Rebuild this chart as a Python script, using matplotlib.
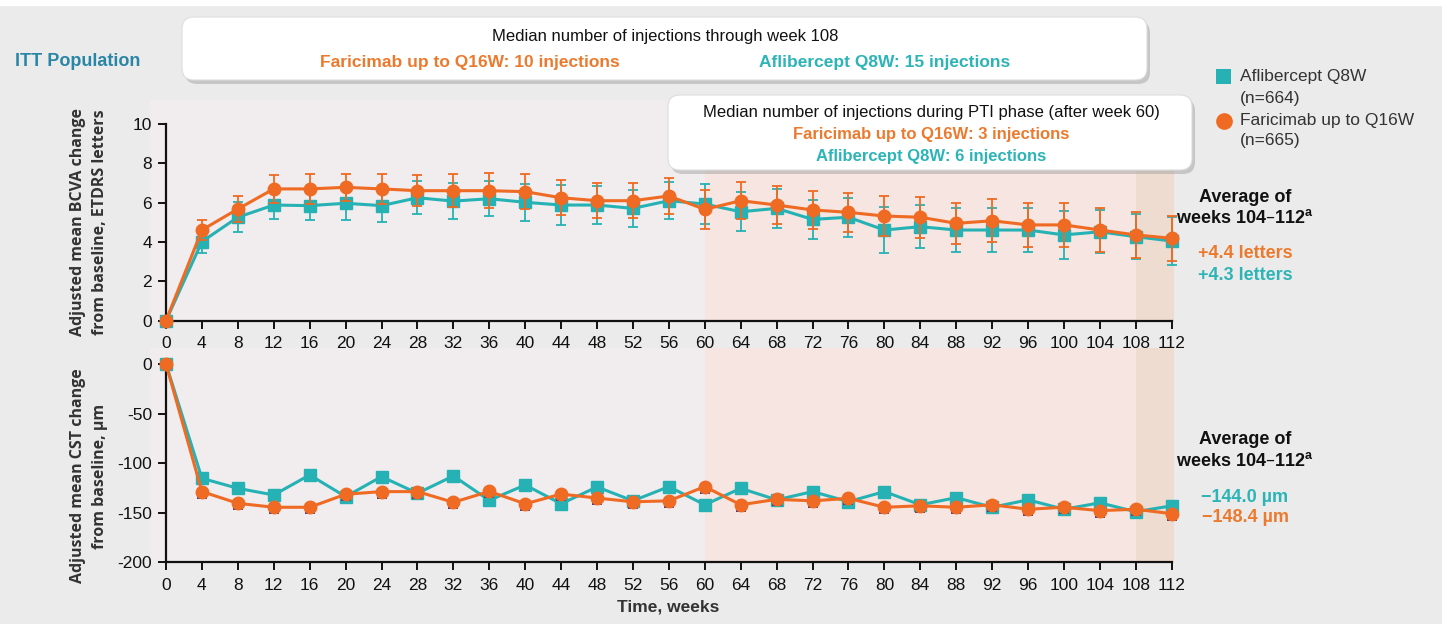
import matplotlib
matplotlib.use('Agg')
import matplotlib.pyplot as plt
from matplotlib.patches import FancyBboxPatch, Rectangle
from matplotlib.transforms import IdentityTransform

# ---------------- data ----------------
weeks = list(range(0, 113, 4))
week_ticks = list(range(0, 113, 4))

bcva_faricimab = [0, 4.61, 5.68, 6.7, 6.7, 6.78, 6.7, 6.61, 6.61, 6.61, 6.56, 6.25, 6.1, 6.1,
                  6.34, 5.66, 6.1, 5.88, 5.63, 5.51, 5.32, 5.26, 4.95, 5.08, 4.87, 4.87, 4.61,
                  4.36, 4.19]
bcva_aflibercept = [0, 4.02, 5.26, 5.88, 5.85, 5.97, 5.85, 6.25, 6.08, 6.2, 6.02, 5.88, 5.88,
                    5.71, 6.1, 5.93, 5.54, 5.71, 5.15, 5.26, 4.61, 4.78, 4.61, 4.61, 4.61, 4.36,
                    4.52, 4.27, 4.05]
bcva_err_faricimab = [0, 0.5, 0.65, 0.7, 0.75, 0.7, 0.75, 0.8, 0.85, 0.9, 0.9, 0.9, 0.9, 0.9,
                      0.9, 1.0, 0.95, 0.95, 0.95, 1.0, 1.0, 1.05, 1.05, 1.1, 1.1, 1.1, 1.1,
                      1.15, 1.15]
bcva_err_aflibercept = [0, 0.6, 0.75, 0.7, 0.75, 0.85, 0.85, 0.85, 0.9, 0.9, 0.95, 1.0, 0.95,
                        0.95, 0.95, 1.0, 1.0, 1.0, 1.0, 1.0, 1.15, 1.1, 1.1, 1.1, 1.1, 1.2,
                        1.1, 1.15, 1.2]

cst_aflibercept = [0, -115.3, -125.4, -132.1, -111.9, -133.8, -113.6, -130.4, -112.9, -137.5,
                   -122, -141, -124, -138, -123.7, -142, -125.4, -137, -128.7, -138.8, -128.7,
                   -142, -134.8, -144.5, -137, -146.5, -140, -149, -143]
cst_faricimab = [0, -128.7, -140.5, -144.5, -144.5, -131.4, -128.7, -128.7, -139.5, -128.5,
                 -141, -131.2, -135.2, -139, -138, -123.7, -142, -136.5, -138, -135.5, -144.5,
                 -143, -144.5, -142, -146.5, -144.5, -147.9, -146.5, -151]
cst_err_low = [0] + [6] * 28
cst_err_high = [0] + [3] * 28

bcva_ticks = [0, 2, 4, 6, 8, 10]
cst_ticks = [0, -50, -100, -150, -200]

# ---------------- style ----------------
ORANGE = '#ef6a22'
TEAL = '#26b2b4'
ORANGE_TXT = '#ec7a2e'
TEAL_TXT = '#2db4b6'
FIG_BG = '#ebebeb'
SHADE_A = '#f1ecee'
SHADE_B = '#f6e5e0'
SHADE_C = '#eedcd1'
FONT = ['Liberation Sans', 'DejaVu Sans']
LFONT = ['Open Sans', 'Liberation Sans', 'DejaVu Sans']

plt.rcParams['font.family'] = FONT
plt.rcParams['axes.unicode_minus'] = False

W, H = 1442, 624
fig = plt.figure(figsize=(W / 100, H / 100), dpi=100, facecolor=FIG_BG)

XMIN, XMAX = -1.8, 112.3
ax_left = (166 + XMIN * 8.98) / W
ax_w = (XMAX - XMIN) * 8.98 / W

# top axes: y=0 at px 320.7, y=10 at px 124
top_ppu = (320.7 - 124) / 10
TOP_YMAX = 11.2
ax1 = fig.add_axes([ax_left, 1 - 320.7 / H, ax_w, TOP_YMAX * top_ppu / H])
# bottom axes: 0 at px 364, -200 at px 562.3
bot_ppu = (562.3 - 364) / 200
BOT_YMAX = 16
ax2 = fig.add_axes([ax_left, 1 - 562.3 / H, ax_w, (200 + BOT_YMAX) * bot_ppu / H])


def style_axes(ax, ymin, ymax, yt):
    ax.set_facecolor('none')
    ax.set_xlim(XMIN, XMAX)
    ax.set_ylim(ymin, ymax)
    ax.axvspan(XMIN, 60, color=SHADE_A, zorder=0, lw=0)
    ax.axvspan(60, 108, color=SHADE_B, zorder=0, lw=0)
    ax.axvspan(108, XMAX, color=SHADE_C, zorder=0, lw=0)
    for s in ('top', 'right'):
        ax.spines[s].set_visible(False)
    ax.spines['left'].set_position(('data', 0))
    ax.spines['left'].set_bounds(min(yt), max(yt))
    ax.spines['bottom'].set_bounds(0, 112)
    for s in ('left', 'bottom'):
        ax.spines[s].set_linewidth(1.6)
        ax.spines[s].set_color('#111111')
    ax.set_xticks(week_ticks)
    ax.set_xticklabels([str(w) for w in week_ticks])
    ax.set_yticks(yt)
    ax.set_yticklabels([str(v) for v in yt])
    ax.tick_params(direction='out', length=6, width=1.4, labelsize=12.5,
                   colors='#111111', pad=4)
    ax.tick_params(axis='x', pad=5)


style_axes(ax1, 0, TOP_YMAX, bcva_ticks)
style_axes(ax2, -200, BOT_YMAX, cst_ticks)

# top panel
ax1.errorbar(weeks, bcva_aflibercept, yerr=bcva_err_aflibercept, color=TEAL, lw=2.2,
             marker='s', ms=8.5, mec=TEAL, mfc=TEAL, ecolor=TEAL, elinewidth=1.3,
             capsize=3.8, capthick=1.3, zorder=3, clip_on=False)
ax1.errorbar(weeks, bcva_faricimab, yerr=bcva_err_faricimab, color=ORANGE, lw=2.2,
             marker='o', ms=9, mec=ORANGE, mfc=ORANGE, ecolor=ORANGE, elinewidth=1.3,
             capsize=3.8, capthick=1.3, zorder=4, clip_on=False)

# bottom panel
ax2.errorbar(weeks, cst_aflibercept, yerr=[cst_err_low, cst_err_high], color=TEAL, lw=2.2,
             marker='s', ms=8.5, mec=TEAL, mfc=TEAL, ecolor='#8fbcc4', elinewidth=1.4,
             capsize=3.5, capthick=1.4, zorder=3, clip_on=False)
ax2.errorbar(weeks, cst_faricimab, yerr=[cst_err_low, cst_err_high], color=ORANGE, lw=2.2,
             marker='o', ms=9, mec=ORANGE, mfc=ORANGE, ecolor='#4a3b86', elinewidth=1.4,
             capsize=3.5, capthick=1.4, zorder=4, clip_on=False)


def ftxt(x, y, s, **kw):
    fig.text(x / W, 1 - y / H, s, **kw)


# y labels
ftxt(89, 222, 'Adjusted mean BCVA change\nfrom baseline, ETDRS letters', rotation=90,
     ha='center', va='center', fontsize=11.5, fontweight='bold', color='#333333',
     family=LFONT, linespacing=1.45, multialignment='center')
ftxt(89, 476, 'Adjusted mean CST change\nfrom baseline, µm', rotation=90,
     ha='center', va='center', fontsize=11.5, fontweight='bold', color='#333333',
     family=LFONT, linespacing=1.45, multialignment='center')
ftxt(668, 607, 'Time, weeks', ha='center', va='center', fontsize=12.5,
     fontweight='bold', color='#333333')

# ITT
ftxt(15, 62, 'ITT Population', ha='left', va='center', fontsize=13, fontweight='bold',
     color='#2a86a6')

# white strip at top
fig.patches.append(Rectangle((0, H - 6), W, 6, transform=IdentityTransform(),
                             facecolor='white', edgecolor='none', zorder=1))


def rbox(x0, y0, x1, y1):
    sh = FancyBboxPatch((x0 + 3, H - y1 - 4), x1 - x0, y1 - y0,
                        boxstyle='round,pad=0,rounding_size=12',
                        transform=IdentityTransform(), facecolor='#9a9a9a',
                        edgecolor='none', alpha=0.45, zorder=8)
    bx = FancyBboxPatch((x0, H - y1), x1 - x0, y1 - y0,
                        boxstyle='round,pad=0,rounding_size=12',
                        transform=IdentityTransform(), facecolor='white',
                        edgecolor='#dddddd', lw=0.8, zorder=9)
    fig.patches.append(sh)
    fig.patches.append(bx)


rbox(182, 17, 1147, 80)
rbox(668, 95, 1192, 170)

ftxt(665, 36, 'Median number of injections through week 108', ha='center', va='center',
     fontsize=12, color='#111111', zorder=10)
ftxt(470, 62, 'Faricimab up to Q16W: 10 injections', ha='center', va='center',
     fontsize=12.5, fontweight='bold', color=ORANGE_TXT, zorder=10)
ftxt(885, 62, 'Aflibercept Q8W: 15 injections', ha='center', va='center',
     fontsize=12.5, fontweight='bold', color=TEAL_TXT, zorder=10)

ftxt(931, 113, 'Median number of injections during PTI phase (after week 60)', ha='center',
     va='center', fontsize=12, color='#111111', zorder=10)
ftxt(931, 134, 'Faricimab up to Q16W: 3 injections', ha='center', va='center',
     fontsize=12, fontweight='bold', color=ORANGE_TXT, zorder=10)
ftxt(931, 156, 'Aflibercept Q8W: 6 injections', ha='center', va='center',
     fontsize=12, fontweight='bold', color=TEAL_TXT, zorder=10)

# legend
fig.patches.append(Rectangle((1216, H - 84), 15, 15, transform=IdentityTransform(),
                             facecolor=TEAL, edgecolor='none', zorder=5))
ftxt(1240, 77, 'Aflibercept Q8W', ha='left', va='center', fontsize=12.5, color='#333333')
ftxt(1240, 98, '(n=664)', ha='left', va='center', fontsize=12.5, color='#333333')
fig.lines.append(plt.Line2D([1223.5], [H - 121], transform=IdentityTransform(), marker='o',
                            ms=11, color=ORANGE, mec=ORANGE, ls='none'))
ftxt(1240, 120, 'Faricimab up to Q16W', ha='left', va='center', fontsize=12.5,
     color='#333333')
ftxt(1240, 141, '(n=665)', ha='left', va='center', fontsize=12.5, color='#333333')

# right annotations
sup = 'weeks 104\u2013112$^\\mathregular{a}$'
ftxt(1245, 197, 'Average of', ha='center', va='center', fontsize=13, fontweight='bold',
     color='#111111')
ftxt(1245, 218, sup, ha='center', va='center', fontsize=13, fontweight='bold',
     color='#111111')
ftxt(1245, 254, '+4.4 letters', ha='center', va='center', fontsize=13, fontweight='bold',
     color=ORANGE_TXT)
ftxt(1245, 276, '+4.3 letters', ha='center', va='center', fontsize=13, fontweight='bold',
     color=TEAL_TXT)

ftxt(1245, 440, 'Average of', ha='center', va='center', fontsize=13, fontweight='bold',
     color='#111111')
ftxt(1245, 461, sup, ha='center', va='center', fontsize=13, fontweight='bold',
     color='#111111')
ftxt(1245, 497, '\u2212144.0 µm', ha='center', va='center', fontsize=13, fontweight='bold',
     color=TEAL_TXT)
ftxt(1245, 518, '\u2212148.4 µm', ha='center', va='center', fontsize=13, fontweight='bold',
     color=ORANGE_TXT)

fig.savefig('out.png', dpi=100, facecolor=FIG_BG)
